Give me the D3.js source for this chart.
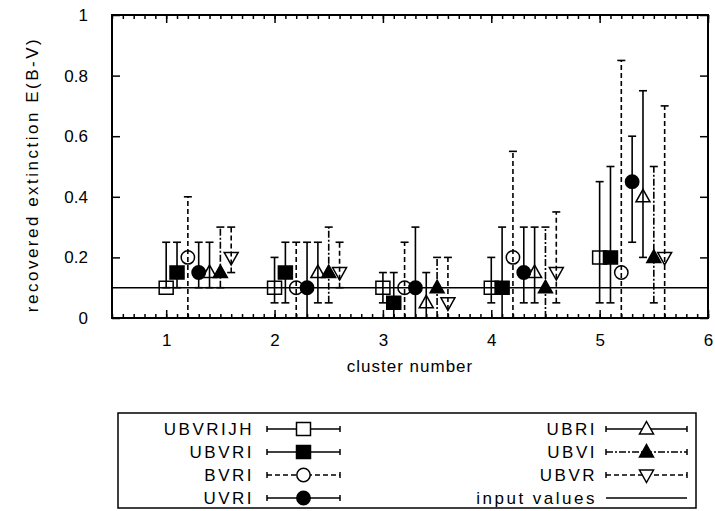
<!DOCTYPE html>
<html>
<head>
<meta charset="utf-8">
<script src="https://d3js.org/d3.v7.min.js"></script>
<style>
  body { margin: 0; background: #fff; }
  svg { display: block; }
  text { font-family: "Liberation Sans", Arial, sans-serif; fill: #000; }
</style>
</head>
<body>
<svg width="715" height="511"></svg>
<script>
// cluster positions and series (one value per cluster)
const clusters = [1, 2, 3, 4, 5];
const seriesNames = ["UBVRIJH", "UBVRI", "BVRI", "UVRI", "UBRI", "UBVI", "UBVR"];

const ubvrijhVal = [0.10, 0.10, 0.10, 0.10, 0.20];
const ubvrijhLo  = [0.10, 0.05, 0.05, 0.05, 0.05];
const ubvrijhHi  = [0.25, 0.20, 0.15, 0.20, 0.45];

const ubvriVal = [0.15, 0.15, 0.05, 0.10, 0.20];
const ubvriLo  = [0.10, 0.05, 0.00, 0.00, 0.05];
const ubvriHi  = [0.25, 0.25, 0.15, 0.30, 0.50];

const bvriVal = [0.20, 0.10, 0.10, 0.20, 0.15];
const bvriLo  = [0.00, 0.00, 0.00, 0.00, 0.00];
const bvriHi  = [0.40, 0.25, 0.25, 0.55, 0.85];

const uvriVal = [0.15, 0.10, 0.10, 0.15, 0.45];
const uvriLo  = [0.10, 0.00, 0.00, 0.05, 0.25];
const uvriHi  = [0.25, 0.25, 0.30, 0.30, 0.60];

const ubriVal = [0.15, 0.15, 0.05, 0.15, 0.40];
const ubriLo  = [0.10, 0.05, 0.00, 0.05, 0.20];
const ubriHi  = [0.25, 0.25, 0.15, 0.30, 0.75];

const ubviVal = [0.15, 0.15, 0.10, 0.10, 0.20];
const ubviLo  = [0.10, 0.05, 0.00, 0.00, 0.05];
const ubviHi  = [0.30, 0.30, 0.20, 0.30, 0.50];

const ubvrVal = [0.20, 0.15, 0.05, 0.15, 0.20];
const ubvrLo  = [0.15, 0.10, 0.00, 0.05, 0.00];
const ubvrHi  = [0.30, 0.25, 0.20, 0.35, 0.70];

const inputValue = 0.1;

const xTicks = [1, 2, 3, 4, 5, 6];
const yTicks = [0, 0.2, 0.4, 0.6, 0.8, 1];

const svg = d3.select("svg");
const plotL = 112, plotR = 708, plotT = 15, plotB = 318;

const x = d3.scaleLinear().domain([0.5, 6]).range([plotL, plotR]);
const y = d3.scaleLinear().domain([0, 1]).range([plotB, plotT]);

const series = [
  { name: seriesNames[0], val: ubvrijhVal, lo: ubvrijhLo, hi: ubvrijhHi, sym: "square", fill: false, dash: null },
  { name: seriesNames[1], val: ubvriVal,   lo: ubvriLo,   hi: ubvriHi,   sym: "square", fill: true,  dash: null },
  { name: seriesNames[2], val: bvriVal,    lo: bvriLo,    hi: bvriHi,    sym: "circle", fill: false, dash: "5,3" },
  { name: seriesNames[3], val: uvriVal,    lo: uvriLo,    hi: uvriHi,    sym: "circle", fill: true,  dash: null },
  { name: seriesNames[4], val: ubriVal,    lo: ubriLo,    hi: ubriHi,    sym: "tri",    fill: false, dash: null },
  { name: seriesNames[5], val: ubviVal,    lo: ubviLo,    hi: ubviHi,    sym: "tri",    fill: true,  dash: "7,2,2,2" },
  { name: seriesNames[6], val: ubvrVal,    lo: ubvrLo,    hi: ubvrHi,    sym: "itri",   fill: false, dash: "5,3" }
];

function symbolPath(sym) {
  if (sym === "square") return "M-7,-6.5 H7 V6.5 H-7 Z";
  if (sym === "circle") return d3.symbol(d3.symbolCircle, 140)();
  if (sym === "tri") return "M0,-7.5 L7,5 L-7,5 Z";
  return "M0,7.5 L7,-5 L-7,-5 Z";
}

// y = 0.1 input line
svg.append("line")
  .attr("x1", plotL).attr("x2", plotR)
  .attr("y1", y(inputValue)).attr("y2", y(inputValue))
  .attr("stroke", "#000").attr("stroke-width", 1.5);

// error bars and points
series.forEach((s, i) => {
  const g = svg.append("g");
  clusters.forEach((c, k) => {
    const cx = x(c + i * 0.1);
    g.append("line").attr("x1", cx).attr("x2", cx)
      .attr("y1", y(s.lo[k])).attr("y2", y(s.hi[k]))
      .attr("stroke", "#000").attr("stroke-width", 1.6)
      .attr("stroke-dasharray", s.dash);
    [s.lo[k], s.hi[k]].forEach(v => {
      if (v <= 0) return;
      g.append("line").attr("x1", cx - 4).attr("x2", cx + 4)
        .attr("y1", y(v)).attr("y2", y(v))
        .attr("stroke", "#000").attr("stroke-width", 1.6);
    });
    g.append("path")
      .attr("d", symbolPath(s.sym))
      .attr("transform", `translate(${cx},${y(s.val[k])})`)
      .attr("fill", s.fill ? "#000" : "none")
      .attr("stroke", "#000").attr("stroke-width", 1.5);
  });
});

// axes: ticks point inward, mirrored on top and right
const minorX = d3.range(5, 61).map(d => d / 10);
svg.append("g").attr("transform", `translate(0,${plotB})`)
  .call(d3.axisBottom(x).tickValues(minorX).tickSize(-4).tickFormat(""));
svg.append("g").attr("transform", `translate(0,${plotT})`)
  .call(d3.axisTop(x).tickValues(minorX).tickSize(-4).tickFormat(""));
svg.append("g").attr("transform", `translate(0,${plotB})`)
  .call(d3.axisBottom(x).tickValues(xTicks).tickSize(-8).tickPadding(16).tickFormat(d3.format("d")));
svg.append("g").attr("transform", `translate(0,${plotT})`)
  .call(d3.axisTop(x).tickValues(xTicks).tickSize(-8).tickFormat(""));
svg.append("g").attr("transform", `translate(${plotL},0)`)
  .call(d3.axisLeft(y).tickValues(yTicks).tickSize(-8).tickPadding(24).tickFormat(d => d === 0 || d === 1 ? d : d3.format(".1f")(d)));
svg.append("g").attr("transform", `translate(${plotR},0)`)
  .call(d3.axisRight(y).tickValues(yTicks).tickSize(-8).tickFormat(""));

svg.selectAll(".domain").remove();
svg.selectAll(".tick line").attr("stroke", "#000").attr("stroke-width", 1.5);
svg.selectAll(".tick text").attr("font-size", 17).attr("font-family", "Liberation Sans, Arial, sans-serif");

svg.append("rect")
  .attr("x", plotL).attr("y", plotT)
  .attr("width", plotR - plotL).attr("height", plotB - plotT)
  .attr("fill", "none").attr("stroke", "#000").attr("stroke-width", 2);

// axis titles
svg.append("text")
  .attr("x", (plotL + plotR) / 2).attr("y", 372)
  .attr("text-anchor", "middle").attr("font-size", 17)
  .attr("letter-spacing", 1)
  .text("cluster number");

svg.append("text")
  .attr("transform", `translate(38,${(plotT + plotB) / 2 + 8}) rotate(-90)`)
  .attr("text-anchor", "middle").attr("font-size", 17)
  .attr("letter-spacing", 2.5)
  .text("recovered extinction E(B-V)");

// legend
const legendRows = [429, 452, 475, 498];
const legend = svg.append("g");
legend.append("rect")
  .attr("x", 118).attr("y", 413).attr("width", 578).attr("height", 95)
  .attr("fill", "none").attr("stroke", "#000").attr("stroke-width", 1.5);

const legendItems = series.concat([{ name: "input values", line: true }]);
legendItems.forEach((s, i) => {
  const col = i < 4 ? 0 : 1;
  const ly = legendRows[i % 4];
  const textEnd = col === 0 ? 254 : 597;
  const x0 = col === 0 ? 267 : 606, x1 = col === 0 ? 340 : 687;
  legend.append("text")
    .attr("x", textEnd).attr("y", ly + 6)
    .attr("text-anchor", "end").attr("font-size", 17).attr("letter-spacing", 2.5)
    .text(s.name);
  legend.append("line").attr("x1", x0).attr("x2", x1).attr("y1", ly).attr("y2", ly)
    .attr("stroke", "#000").attr("stroke-width", 1.5).attr("stroke-dasharray", s.dash || null);
  if (s.line) return;
  [x0, x1].forEach(xx => legend.append("line")
    .attr("x1", xx).attr("x2", xx).attr("y1", ly - 3).attr("y2", ly + 3)
    .attr("stroke", "#000").attr("stroke-width", 1.5));
  legend.append("path")
    .attr("d", symbolPath(s.sym))
    .attr("transform", `translate(${(x0 + x1) / 2},${ly})`)
    .attr("fill", s.fill ? "#000" : "#fff")
    .attr("stroke", "#000").attr("stroke-width", 1.5);
});
</script>
</body>
</html>
